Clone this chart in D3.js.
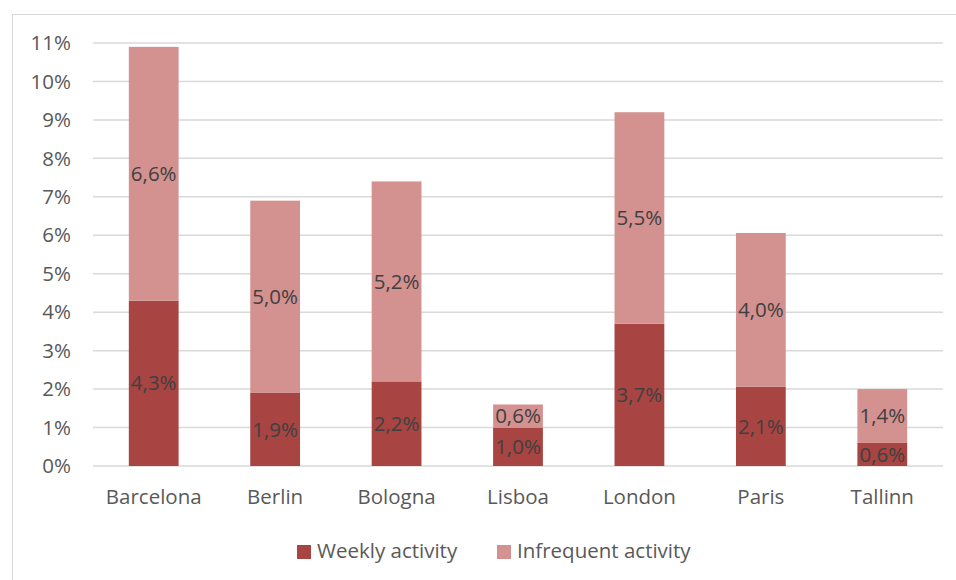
<!DOCTYPE html>
<html><head><meta charset="utf-8">
<script src="https://cdn.jsdelivr.net/npm/d3@7"></script>
<style>body{margin:0;background:#fff}svg{display:block}text{font-family:"Open Sans",sans-serif}</style>
</head><body><svg id="c" width="956" height="580"></svg>
<script>
const categories = ["Barcelona","Berlin","Bologna","Lisboa","London","Paris","Tallinn"];
const weekly = [4.3,1.9,2.2,1.0,3.7,2.06,0.6];
const infrequent = [6.6,5.0,5.2,0.6,5.5,4.0,1.4];
const seriesNames = ["Weekly activity","Infrequent activity"];
const colors = ["#a84442","#d39190"];
const yTicks = [0,1,2,3,4,5,6,7,8,9,10,11];
const FS = 20.5;

const svg = d3.select("#c");
svg.append("rect").attr("x",12.5).attr("y",14.5).attr("width",950).attr("height",580)
  .attr("fill","none").attr("stroke","#d9d9d9");
const x = d3.scaleBand().domain(categories).range([93,943]).paddingInner(0.59).paddingOuter(0.295);
const y = d3.scaleLinear().domain([0,11]).range([466,43]);

svg.append("g").selectAll("line").data(yTicks).join("line")
  .attr("x1",93).attr("x2",943).attr("y1",d=>y(d)).attr("y2",d=>y(d))
  .attr("stroke","#d9d9d9").attr("stroke-width",1.5);

const fmt = v => d3.format(".1f")(v).replace(".",",")+"%";
svg.append("g").selectAll("text").data(yTicks).join("text")
  .attr("x",71).attr("y",d=>y(d)).attr("dy","0.35em").attr("text-anchor","end")
  .attr("font-size",FS).attr("fill","#595959").text(d=>d+"%");

const rows = categories.map((c,i)=>({cat:c,w:weekly[i],f:infrequent[i]}));
const stack = d3.stack().keys(["w","f"])(rows);
const g = svg.append("g");
stack.forEach((s,si)=>{
  g.append("g").selectAll("rect").data(s).join("rect")
    .attr("x",d=>x(d.data.cat)).attr("width",x.bandwidth())
    .attr("y",d=>y(d[1])).attr("height",d=>y(d[0])-y(d[1]))
    .attr("fill",colors[si]);
  g.append("g").selectAll("text").data(s).join("text")
    .attr("x",d=>x(d.data.cat)+x.bandwidth()/2)
    .attr("y",d=>(y(d[0])+y(d[1]))/2).attr("dy","0.35em")
    .attr("text-anchor","middle").attr("font-size",FS).attr("fill","#404040")
    .text(d=>fmt(d[1]-d[0]));
});

svg.append("g").selectAll("text").data(categories).join("text")
  .attr("x",d=>x(d)+x.bandwidth()/2).attr("y",497).attr("dy","0.35em")
  .attr("text-anchor","middle").attr("font-size",FS).attr("fill","#595959").text(d=>d);

const leg = svg.append("g");
const lx = [297,497];
seriesNames.forEach((n,i)=>{
  leg.append("rect").attr("x",lx[i]).attr("y",545).attr("width",14).attr("height",14).attr("fill",colors[i]);
  leg.append("text").attr("x",lx[i]+20).attr("y",551).attr("dy","0.35em")
    .attr("font-size",FS).attr("fill","#595959").text(n);
});
</script></body></html>
